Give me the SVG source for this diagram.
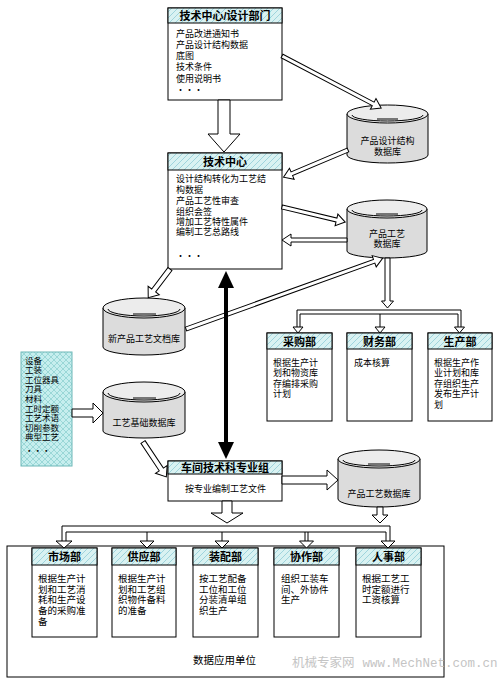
<svg xmlns="http://www.w3.org/2000/svg" width="500" height="681" viewBox="0 0 500 681">
<defs>
<pattern id="hatch" patternUnits="userSpaceOnUse" width="6" height="6">
<rect width="6" height="6" fill="#d9f2f2"/>
<path d="M-1,1L1,-1M0,6L6,0M5,7L7,5" stroke="#9fd4dc" stroke-width="1"/>
</pattern>
<pattern id="cross" patternUnits="userSpaceOnUse" width="6" height="6">
<rect width="6" height="6" fill="#c6eeee"/>
<path d="M0,0L6,6M6,0L0,6" stroke="#8fd0d0" stroke-width="0.8"/>
</pattern>
</defs>
<style>
.box{fill:#fff;stroke:#000;stroke-width:1}
.hdr{fill:url(#hatch);stroke:#000;stroke-width:1}
.t{font-family:"Liberation Sans","Noto Sans CJK SC",sans-serif;font-size:9px;fill:#000}
.tl{font-family:"Liberation Sans","Noto Sans CJK SC",sans-serif;font-size:8.5px;fill:#000}
.tb{font-family:"Liberation Sans","Noto Sans CJK SC",sans-serif;font-size:9.5px;fill:#000}
.c{text-anchor:middle}
.h{font-family:"Liberation Sans","Noto Sans CJK SC",sans-serif;font-size:11px;font-weight:bold;fill:#000;text-anchor:middle}
.ar{fill:#fff;stroke:#000;stroke-width:1}
.dbb{fill:#dcdcdc;stroke:#000}
.dbt{fill:#ececec;stroke:#000}
.ln{fill:none;stroke:#000;stroke-width:1}
</style>
<rect width="500" height="681" fill="#fff"/>

<g id="tech-design">
<rect class="box" x="168" y="8" width="114" height="92"/>
<rect class="hdr" x="168" y="8" width="114" height="15"/>
<text class="h" x="225" y="19.5">技术中心/设计部门</text>
<text class="t" x="176" y="37"><tspan x="176">产品改进通知书</tspan><tspan x="176" dy="11">产品设计结构数据</tspan><tspan x="176" dy="11">底图</tspan><tspan x="176" dy="11">技术条件</tspan><tspan x="176" dy="11.5">使用说明书</tspan><tspan x="176" dy="11.5">・・・</tspan></text>
</g>

<g id="db-design">
<path class="dbb" d="M347,114V155A40.5,8 0 0 0 428,155V114Z"/>
<ellipse class="dbt" cx="387.5" cy="114" rx="40.5" ry="9"/>
<path class="ln" d="M352,115A35.5,6 0 0 0 423,115M377,119H398"/>
<text class="t c" x="387.5" y="143.5"><tspan x="387.5">产品设计结构</tspan><tspan x="387.5" dy="11.5">数据库</tspan></text>
</g>

<g id="tech-center">
<rect class="box" x="168" y="153" width="114" height="116"/>
<rect class="hdr" x="168" y="153" width="114" height="17"/>
<text class="h" x="225" y="165.5">技术中心</text>
<text class="t" x="176" y="181.5"><tspan x="176">设计结构转化为工艺结</tspan><tspan x="176" dy="11.5">构数据</tspan><tspan x="176" dy="10.5">产品工艺性审查</tspan><tspan x="176" dy="11">组织会签</tspan><tspan x="176" dy="10.2">增加工艺特性属件</tspan><tspan x="176" dy="10.5">编制工艺总路线</tspan><tspan x="176" dy="24">・・・</tspan></text>
</g>

<g id="db-process">
<path class="dbb" d="M347,209V251A40,7 0 0 0 427,251V209Z"/>
<ellipse class="dbt" cx="387" cy="209" rx="40" ry="9"/>
<path class="ln" d="M352,210A35,6 0 0 0 422,210M376,214H398"/>
<text class="t c" x="387" y="236.5"><tspan x="387">产品工艺</tspan><tspan x="387" dy="10.5">数据库</tspan></text>
</g>

<g id="db-newdoc">
<path class="dbb" d="M103,308V347A41,8 0 0 0 185,347V308Z"/>
<ellipse class="dbt" cx="144" cy="308" rx="41" ry="10"/>
<path class="ln" d="M108,309A36,7 0 0 0 180,309M133,314H156"/>
<text class="t c" x="144" y="341.5">新产品工艺文档库</text>
</g>

<g id="purchase">
<rect class="box" x="267" y="333" width="65" height="88"/>
<rect class="hdr" x="267" y="333" width="65" height="16"/>
<text class="h" x="299.5" y="345.5">采购部</text>
<text class="t" x="273" y="365.5"><tspan x="273">根据生产计</tspan><tspan x="273" dy="10.5">划和物资库</tspan><tspan x="273" dy="10.5">存编排采购</tspan><tspan x="273" dy="10.5">计划</tspan></text>
</g>

<g id="finance">
<rect class="box" x="347" y="333" width="65" height="88"/>
<rect class="hdr" x="347" y="333" width="65" height="16"/>
<text class="h" x="379.5" y="345.5">财务部</text>
<text class="t" x="354" y="365.5">成本核算</text>
</g>

<g id="production">
<rect class="box" x="428" y="333" width="64" height="88"/>
<rect class="hdr" x="428" y="333" width="64" height="16"/>
<text class="h" x="460" y="345.5">生产部</text>
<text class="t" x="434" y="365.5"><tspan x="434">根据生产作</tspan><tspan x="434" dy="10.5">业计划和库</tspan><tspan x="434" dy="10.5">存组织生产</tspan><tspan x="434" dy="10.5">发布生产计</tspan><tspan x="434" dy="10.5">划</tspan></text>
</g>

<g id="base-list">
<rect x="21" y="352" width="51" height="114" fill="url(#cross)" stroke="#6fb8b8" stroke-width="1"/>
<text class="tl" x="25" y="363.5"><tspan x="25">设备</tspan><tspan x="25" dy="9.6">工装</tspan><tspan x="25" dy="9.6">工位器具</tspan><tspan x="25" dy="9.6">刀具</tspan><tspan x="25" dy="9.6">材料</tspan><tspan x="25" dy="9.6">工时定额</tspan><tspan x="25" dy="9.6">工艺术语</tspan><tspan x="25" dy="9.6">切削参数</tspan><tspan x="25" dy="9.6">典型工艺</tspan><tspan x="25" dy="14">・・・</tspan></text>
</g>

<g id="db-base">
<path class="dbb" d="M103,392V431A41,7 0 0 0 185,431V392Z"/>
<ellipse class="dbt" cx="144" cy="392" rx="41" ry="10"/>
<path class="ln" d="M108,393A36,7 0 0 0 180,393M133,398H156"/>
<text class="t c" x="144" y="425.5">工艺基础数据库</text>
</g>

<g id="workshop">
<rect class="box" x="168" y="461" width="114" height="40"/>
<rect class="hdr" x="168" y="461" width="114" height="13"/>
<text class="h" x="225" y="471.5">车间技术科专业组</text>
<text class="t" x="185" y="492">按专业编制工艺文件</text>
</g>

<g id="db-product">
<path class="dbb" d="M338,459V499A41,8 0 0 0 420,499V459Z"/>
<ellipse class="dbt" cx="379" cy="459" rx="41" ry="9"/>
<path class="ln" d="M343,460A36,6 0 0 0 415,460M368,464H390"/>
<text class="t c" x="379" y="496.5">产品工艺数据库</text>
</g>

<g id="apply-units">
<rect class="ln" x="7" y="546" width="437" height="131"/>
<text x="193" y="664" font-family="Liberation Sans, Noto Sans CJK SC, sans-serif" font-size="10.5" fill="#000">数据应用单位</text>
</g>

<g id="market">
<rect class="box" x="32" y="548" width="65" height="89"/>
<rect class="hdr" x="32" y="548" width="65" height="17"/>
<text class="h" x="64.5" y="560.5" font-size="10.5">市场部</text>
<text class="tb" x="38" y="582"><tspan x="38">根据生产计</tspan><tspan x="38" dy="10.7">划和工艺消</tspan><tspan x="38" dy="10.7">耗和生产设</tspan><tspan x="38" dy="10.7">备的采购准</tspan><tspan x="38" dy="10.7">备</tspan></text>
</g>

<g id="supply">
<rect class="box" x="112" y="548" width="64" height="89"/>
<rect class="hdr" x="112" y="548" width="64" height="17"/>
<text class="h" x="144" y="560.5" font-size="10.5">供应部</text>
<text class="tb" x="118" y="582"><tspan x="118">根据生产计</tspan><tspan x="118" dy="10.7">划和工艺组</tspan><tspan x="118" dy="10.7">织物件备料</tspan><tspan x="118" dy="10.7">的准备</tspan></text>
</g>

<g id="assembly">
<rect class="box" x="193" y="548" width="65" height="89"/>
<rect class="hdr" x="193" y="548" width="65" height="17"/>
<text class="h" x="225.5" y="560.5" font-size="10.5">装配部</text>
<text class="tb" x="199" y="582"><tspan x="199">按工艺配备</tspan><tspan x="199" dy="10.7">工位和工位</tspan><tspan x="199" dy="10.7">分装清单组</tspan><tspan x="199" dy="10.7">织生产</tspan></text>
</g>

<g id="cooperate">
<rect class="box" x="274" y="548" width="65" height="89"/>
<rect class="hdr" x="274" y="548" width="65" height="17"/>
<text class="h" x="306.5" y="560.5" font-size="10.5">协作部</text>
<text class="tb" x="281" y="582"><tspan x="281">组织工装车</tspan><tspan x="281" dy="10.7">间、外协件</tspan><tspan x="281" dy="10.7">生产</tspan></text>
</g>

<g id="personnel">
<rect class="box" x="356" y="548" width="65" height="89"/>
<rect class="hdr" x="356" y="548" width="65" height="17"/>
<text class="h" x="388.5" y="560.5" font-size="10.5">人事部</text>
<text class="tb" x="362" y="582"><tspan x="362">根据工艺工</tspan><tspan x="362" dy="10.7">时定额进行</tspan><tspan x="362" dy="10.7">工资核算</tspan></text>
</g>

<g id="connectors">
<path class="ar" d="M0,-6H34V-16L52,0L34,16V6H0Z" transform="translate(224,100) rotate(90)"/>
<path class="ar" d="M0,-2H103V-6L112,0L103,6V2H0Z" transform="translate(282,56) rotate(27.7)"/>
<path class="ar" d="M0,-2H61V-6L70,0L61,6V2H0Z" transform="translate(348,150) rotate(157.1)"/>
<path class="ar" d="M0,-2H56V-6L65,0L56,6V2H0Z" transform="translate(282,207) rotate(13.4)"/>
<path class="ar" d="M0,-2H56V-6L65,0L56,6V2H0Z" transform="translate(347,240) rotate(180)"/>
<path class="ar" d="M0,-2.5H27V-7L36,0L27,7V2.5H0Z" transform="translate(170,269) rotate(127.2)"/>
<path class="ar" d="M0,-2H200V-6L209,0L200,6V2H0Z" transform="translate(186,329) rotate(-19.8)"/>
<path class="ar" d="M0,-4H21V-10L31,0L21,10V4H0Z" transform="translate(72,413)"/>
<path class="ar" d="M0,-2.5H33V-7L42,0L33,7V2.5H0Z" transform="translate(143,442) rotate(56.3)"/>
<path class="ar" d="M0,-4H45V-10L56,0L45,10V4H0Z" transform="translate(282,480)"/>
<path class="ar" d="M0,-2.5H43V-6L50,0L43,6V2.5H0Z" transform="translate(387.5,258) rotate(90)"/>
<path class="ln" d="M297,327V310H461V327M300,327V314H458V327M380,314V327"/>
<path class="ar" d="M293,327H303L298,333Z"/>
<path class="ar" d="M375,327H385L380,333Z"/>
<path class="ar" d="M454.5,327H464.5L459.5,333Z"/>
<line x1="226" y1="285" x2="226" y2="445" stroke="#000" stroke-width="4"/>
<path d="M226,271L218,288H234Z" fill="#000"/>
<path d="M226,459L218,442H234Z" fill="#000"/>
<path class="ar" d="M0,-5H12V-16L22,0L12,16V5H0Z" transform="translate(227,501) rotate(90)"/>
<path class="ar" d="M0,-3H8V-8L16,0L8,8V3H0Z" transform="translate(380,507) rotate(90)"/>
<path class="ln" d="M62,541V526H390V541M66,541V532H386V541M147,532V541M222,532V541M305,532V541M308,532V541"/>
<path class="ar" d="M56,541H72L64,548Z"/>
<path class="ar" d="M140,541H154L147,548Z"/>
<path class="ar" d="M215,541H229L222,548Z"/>
<path class="ar" d="M299.5,541H313.5L306.5,548Z"/>
<path class="ar" d="M381,541H395L388,548Z"/>
</g>

<text x="292" y="667" font-size="12.5" fill="#c4c4c4"><tspan font-family="Noto Sans CJK SC, sans-serif">机械专家网</tspan><tspan font-family="Liberation Mono, monospace" dx="8">www.MechNet.com.cn</tspan></text>
</svg>
